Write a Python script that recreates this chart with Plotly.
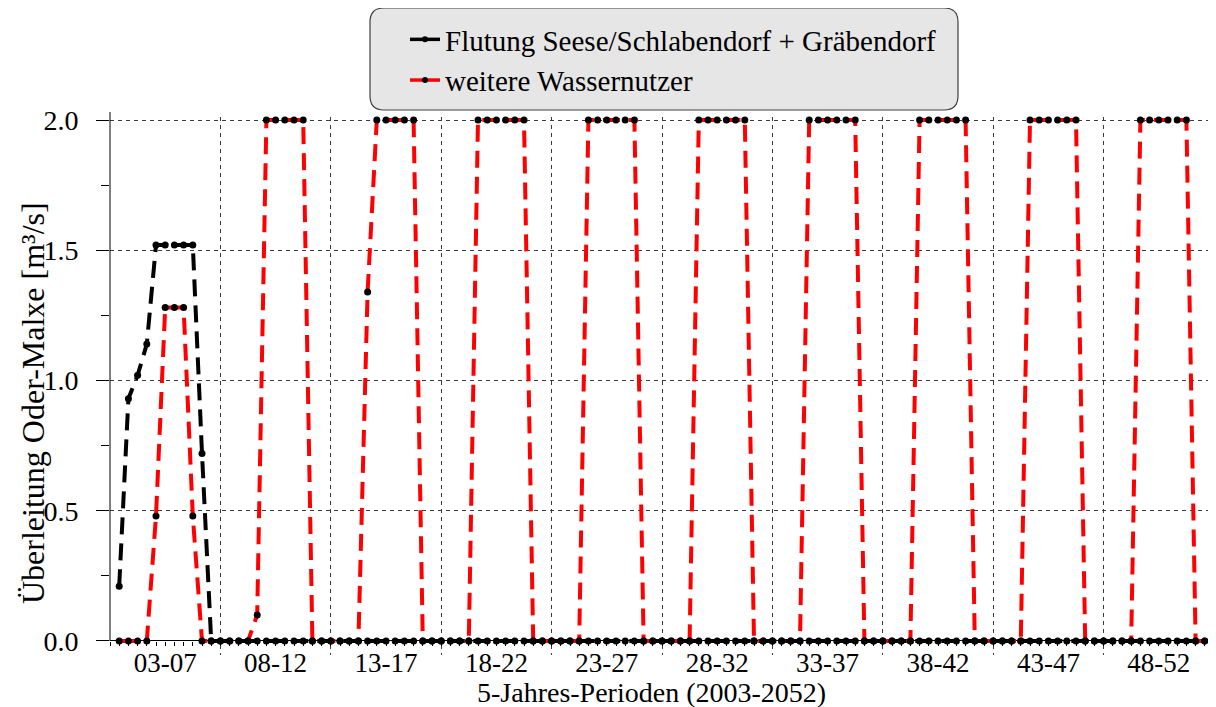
import plotly.graph_objects as go

# ---------------- data ----------------
periods = ["03-07", "08-12", "13-17", "18-22", "23-27",
           "28-32", "33-37", "38-42", "43-47", "48-52"]

# monthly values, 12 per 5-year period
flutung = [
    0.21, 0.93, 1.02, 1.14, 1.52, 1.52, 1.52, 1.52, 1.52, 0.72, 0.00, 0.00,  # 03-07
    0.00, 0.00, 0.00, 0.00, 0.00, 0.00, 0.00, 0.00, 0.00, 0.00, 0.00, 0.00,  # 08-12
    0.00, 0.00, 0.00, 0.00, 0.00, 0.00, 0.00, 0.00, 0.00, 0.00, 0.00, 0.00,  # 13-17
    0.00, 0.00, 0.00, 0.00, 0.00, 0.00, 0.00, 0.00, 0.00, 0.00, 0.00, 0.00,  # 18-22
    0.00, 0.00, 0.00, 0.00, 0.00, 0.00, 0.00, 0.00, 0.00, 0.00, 0.00, 0.00,  # 23-27
    0.00, 0.00, 0.00, 0.00, 0.00, 0.00, 0.00, 0.00, 0.00, 0.00, 0.00, 0.00,  # 28-32
    0.00, 0.00, 0.00, 0.00, 0.00, 0.00, 0.00, 0.00, 0.00, 0.00, 0.00, 0.00,  # 33-37
    0.00, 0.00, 0.00, 0.00, 0.00, 0.00, 0.00, 0.00, 0.00, 0.00, 0.00, 0.00,  # 38-42
    0.00, 0.00, 0.00, 0.00, 0.00, 0.00, 0.00, 0.00, 0.00, 0.00, 0.00, 0.00,  # 43-47
    0.00, 0.00, 0.00, 0.00, 0.00, 0.00, 0.00, 0.00, 0.00, 0.00, 0.00, 0.00,  # 48-52
]

weitere = [
    0.00, 0.00, 0.00, 0.00, 0.48, 1.28, 1.28, 1.28, 0.48, 0.00, 0.00, 0.00,  # 03-07
    0.00, 0.00, 0.00, 0.10, 2.00, 2.00, 2.00, 2.00, 2.00, 0.00, 0.00, 0.00,  # 08-12
    0.00, 0.00, 0.00, 1.34, 2.00, 2.00, 2.00, 2.00, 2.00, 0.00, 0.00, 0.00,  # 13-17
    0.00, 0.00, 0.00, 2.00, 2.00, 2.00, 2.00, 2.00, 2.00, 0.00, 0.00, 0.00,  # 18-22
    0.00, 0.00, 0.00, 2.00, 2.00, 2.00, 2.00, 2.00, 2.00, 0.00, 0.00, 0.00,  # 23-27
    0.00, 0.00, 0.00, 2.00, 2.00, 2.00, 2.00, 2.00, 2.00, 0.00, 0.00, 0.00,  # 28-32
    0.00, 0.00, 0.00, 2.00, 2.00, 2.00, 2.00, 2.00, 2.00, 0.00, 0.00, 0.00,  # 33-37
    0.00, 0.00, 0.00, 2.00, 2.00, 2.00, 2.00, 2.00, 2.00, 0.00, 0.00, 0.00,  # 38-42
    0.00, 0.00, 0.00, 2.00, 2.00, 2.00, 2.00, 2.00, 2.00, 0.00, 0.00, 0.00,  # 43-47
    0.00, 0.00, 0.00, 2.00, 2.00, 2.00, 2.00, 2.00, 2.00, 0.00, 0.00, 0.00,  # 48-52
]

y_ticks = [0.0, 0.5, 1.0, 1.5, 2.0]
y_minor = [0.25, 0.75, 1.25, 1.75]
name_flutung = "Flutung Seese/Schlabendorf + Gräbendorf"
name_weitere = "weitere Wassernutzer"
x_title = "5-Jahres-Perioden (2003-2052)"
y_title = "Überleitung Oder-Malxe [m³/s]"

# ---------------- layout geometry (page pixels; page body has an 8px margin) ----------------
OFF = 8
PAGE_W, PAGE_H = 1216, 707
W, H = PAGE_W - OFF, PAGE_H - OFF
PL, PR, PT, PB = 110, 1214, 117, 655          # plot area in page pixels
L, R, T, B = PL - OFF, W - (PR - OFF), PT - OFF, H - (PB - OFF)
Y_MIN, Y_MAX = -0.054, 2.012
N_PER = 12
x_vals = list(range(1, len(flutung) + 1))
X_MAX = N_PER * len(periods)
zero_frac = (0 - Y_MIN) / (Y_MAX - Y_MIN)
FONT = "Liberation Serif"
GRID = "#3c3c3c"

def pxx(px):
    return (px - PL) / (PR - PL)

def pxy(py):
    return (PB - py) / (PB - PT)

def cx(px):
    return (px - OFF) / W

def cy(py):
    return 1 - (py - OFF) / H

fig = go.Figure()

dash = "17px,9px"
fig.add_trace(go.Scatter(
    x=x_vals, y=weitere, mode="lines+markers", showlegend=False,
    line=dict(color="#ff0000", width=4, dash=dash),
    marker=dict(color="black", size=7), cliponaxis=False, hoverinfo="skip"))
fig.add_trace(go.Scatter(
    x=x_vals, y=flutung, mode="lines+markers", showlegend=False,
    line=dict(color="black", width=4, dash=dash),
    marker=dict(color="black", size=7), cliponaxis=False, hoverinfo="skip"))

# legend entries (solid samples, as in the reference legend)
fig.add_trace(go.Scatter(
    x=[None], y=[None], mode="lines+markers", name=name_flutung,
    line=dict(color="black", width=3.5), marker=dict(color="black", size=6),
    legendgroup="a"))
fig.add_trace(go.Scatter(
    x=[None], y=[None], mode="lines+markers", name=name_weitere,
    line=dict(color="#ff0000", width=3.5), marker=dict(color="black", size=6),
    legendgroup="b"))

# dummy trace for label axis
fig.add_trace(go.Scatter(x=[], y=[], xaxis="x2", showlegend=False, hoverinfo="skip"))

# rounded legend box
lx0, lx1, ly0, ly1, rr = 370, 958, 8, 110, 14
def P(px, py):
    return f"{pxx(px):.6f},{pxy(py):.6f}"
path = (f"M {P(lx0+rr, ly0)} L {P(lx1-rr, ly0)} Q {P(lx1, ly0)} {P(lx1, ly0+rr)} "
        f"L {P(lx1, ly1-rr)} Q {P(lx1, ly1)} {P(lx1-rr, ly1)} "
        f"L {P(lx0+rr, ly1)} Q {P(lx0, ly1)} {P(lx0, ly1-rr)} "
        f"L {P(lx0, ly0+rr)} Q {P(lx0, ly0)} {P(lx0+rr, ly0)} Z")
shapes = [
    dict(type="path", path=path, xref="paper", yref="paper",
         fillcolor="#e6e6e6", line=dict(color="#404040", width=1.2), layer="below"),
    # solid y-axis line from 0 to 2
    dict(type="line", xref="paper", yref="paper", x0=0, x1=0,
         y0=zero_frac, y1=pxy(112), line=dict(color="black", width=1)),
]

annotations = [
    dict(text=x_title, xref="paper", yref="paper", x=pxx(651), y=pxy(692),
         xanchor="center", yanchor="middle", showarrow=False,
         font=dict(family=FONT, size=28, color="black")),
    dict(text=y_title, xref="paper", yref="paper", x=pxx(33), y=pxy(403),
         xanchor="center", yanchor="middle", showarrow=False, textangle=-90,
         font=dict(family=FONT, size=32, color="black")),
]

fig.update_layout(
    width=W, height=H,
    margin=dict(l=L, r=R, t=T, b=B, autoexpand=False),
    paper_bgcolor="white", plot_bgcolor="white",
    font=dict(family=FONT, size=28, color="black"),
    shapes=shapes, annotations=annotations,
    showlegend=True,
    legend=dict(xref="container", yref="container", x=cx(405), xanchor="left",
                y=cy(14), yanchor="top", bgcolor="rgba(0,0,0,0)",
                borderwidth=0, font=dict(family=FONT, size=29, color="black"),
                tracegroupgap=4, traceorder="normal"),
    xaxis=dict(range=[0, X_MAX], tickmode="array",
               tickvals=[N_PER * i for i in range(len(periods) + 1)],
               showticklabels=False, ticks="", showgrid=True, gridcolor=GRID,
               gridwidth=1, griddash="4px,4px", zeroline=False, showline=False,
               anchor="free", position=zero_frac,
               minor=dict(tick0=0, dtick=1, ticks="outside", ticklen=4,
                          tickcolor="black", tickwidth=1, showgrid=False)),
    xaxis2=dict(overlaying="x", range=[0, X_MAX], anchor="free", position=zero_frac,
                side="bottom", tickmode="array",
                tickvals=[N_PER * i + N_PER / 2 for i in range(len(periods))],
                ticktext=periods, ticks="", showgrid=False, zeroline=False,
                showline=False, tickfont=dict(size=27, color="black"),
                ticklabelstandoff=3),
    yaxis=dict(range=[Y_MIN, Y_MAX], tickmode="array", tickvals=y_ticks,
               ticktext=[f"{v:.1f}" for v in y_ticks], ticks="outside", ticklen=13,
               tickwidth=1, tickcolor="black", showgrid=True, gridcolor=GRID,
               gridwidth=1, griddash="4px,4px", zeroline=True, zerolinecolor="black",
               zerolinewidth=1, showline=False, anchor="x",
               minor=dict(tickvals=y_minor, ticks="outside", ticklen=8,
                          tickcolor="black", tickwidth=1, showgrid=False),
               tickfont=dict(size=28, color="black"), ticklabelstandoff=12),
)

fig.write_html("out.html")
